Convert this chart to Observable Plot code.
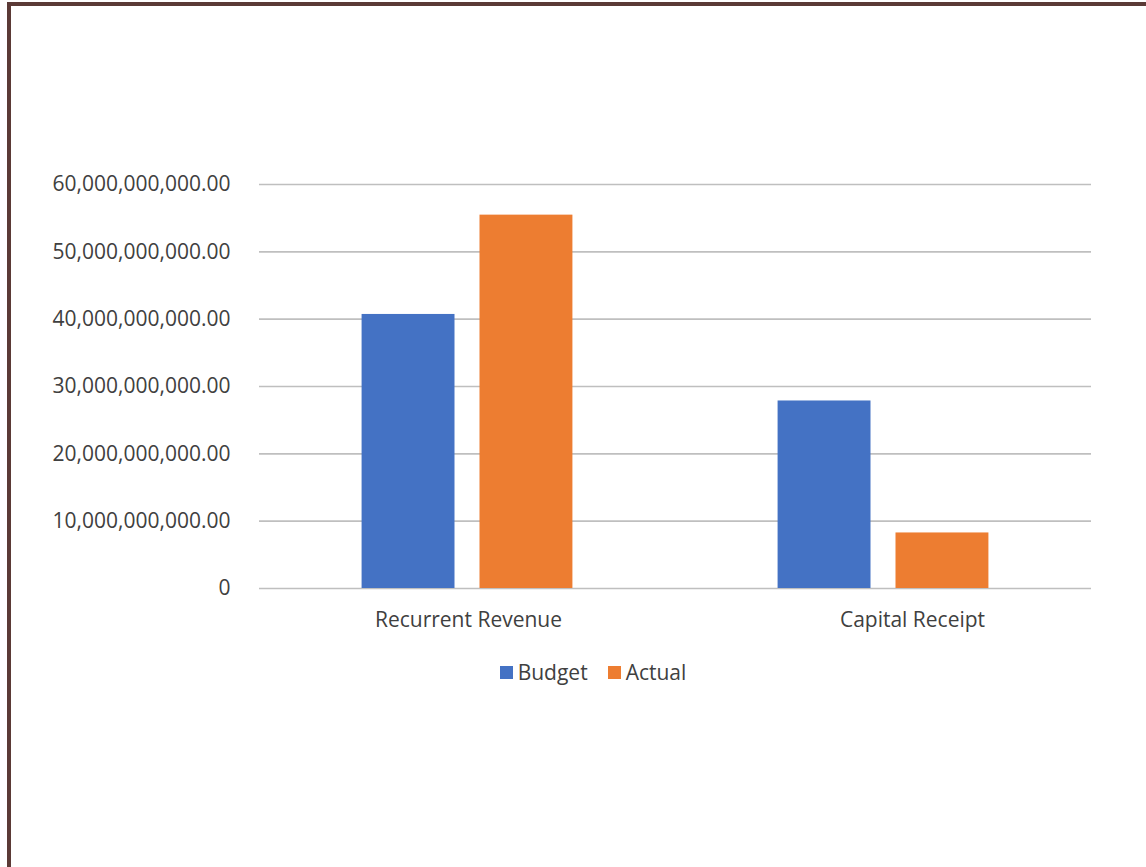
<!DOCTYPE html>
<html>
<head>
<meta charset="utf-8">
<script src="https://cdn.jsdelivr.net/npm/d3@7"></script>
<script src="https://cdn.jsdelivr.net/npm/@observablehq/plot@0.6"></script>
<style>
  html, body { margin: 0; padding: 0; background: #fff; }
  #wrap { position: relative; width: 1146px; height: 867px; overflow: hidden; font-family: "Open Sans", sans-serif; }
  #frameTop { position: absolute; left: 7px; top: 2px; width: 1139px; height: 4px; background: #5b3a36; }
  #frameLeft { position: absolute; left: 7px; top: 2px; width: 4px; height: 865px; background: #5b3a36; }
  #chart { position: absolute; left: 0; top: 0; }
  #legend { position: absolute; top: 658px; left: 0; width: 1146px; display: flex; justify-content: center; gap: 20px; font-size: 21px; color: #404040; padding-left: 40px; box-sizing: border-box; }
  .item { display: flex; align-items: center; gap: 5px; }
  .sw { width: 13px; height: 13px; display: inline-block; }
</style>
</head>
<body>
<div id="wrap">
  <div id="chart"></div>
  <div id="frameTop"></div>
  <div id="frameLeft"></div>
  <div id="legend"></div>
</div>
<script>
const categories = ["Recurrent Revenue", "Capital Receipt"];
const series = ["Budget", "Actual"];
const budgetValues = [40.7e9, 27.85e9];
const actualValues = [55.45e9, 8.25e9];
const yTicks = [0, 10e9, 20e9, 30e9, 40e9, 50e9, 60e9];
const colors = ["#4472C4", "#ED7D31"];

const rows = [];
categories.forEach((c, i) => {
  rows.push({category: c, series: "Budget", value: budgetValues[i]});
  rows.push({category: c, series: "Actual", value: actualValues[i]});
});

const fmt = v => v === 0 ? "0" : d3.format(",.2f")(v);

const labelOpts = {fx: d => d, text: d => d, frameAnchor: "bottom", lineAnchor: "middle", dy: 32, fontSize: 21, fill: "#404040"};

const chart = Plot.plot({
  width: 1146,
  height: 650,
  marginLeft: 258,
  marginRight: 55,
  marginTop: 184,
  marginBottom: 62,
  style: {fontFamily: "Open Sans, sans-serif", fontSize: "21px", color: "#404040", background: "transparent"},
  fx: {domain: categories, padding: 0, label: null, axis: null},
  x: {domain: series, paddingInner: 0.212, paddingOuter: 0.87, axis: null, round: false},
  y: {domain: [0, 60e9], ticks: yTicks, tickFormat: fmt, label: null, tickSize: 0, tickPadding: 29},
  color: {domain: series, range: colors},
  marks: [
    Plot.gridY(yTicks, {stroke: "#bfbfbf", strokeOpacity: 1, strokeWidth: 1.6}),
    Plot.barY(rows, {fx: "category", x: "series", y: "value", fill: "series"}),
    Plot.axisY(yTicks, {tickFormat: fmt, tickSize: 0, tickPadding: 29, fontSize: "21px", fill: "#404040"}),
    Plot.text([categories[0]], {...labelOpts, dx: 1}),
    Plot.text([categories[1]], {...labelOpts, dx: 29})
  ]
});
document.getElementById("chart").appendChild(chart);

const legend = document.getElementById("legend");
series.forEach((s, i) => {
  const it = document.createElement("div");
  it.className = "item";
  const sw = document.createElement("span");
  sw.className = "sw";
  sw.style.background = colors[i];
  const t = document.createElement("span");
  t.textContent = s;
  it.appendChild(sw);
  it.appendChild(t);
  legend.appendChild(it);
});
</script>
</body>
</html>
